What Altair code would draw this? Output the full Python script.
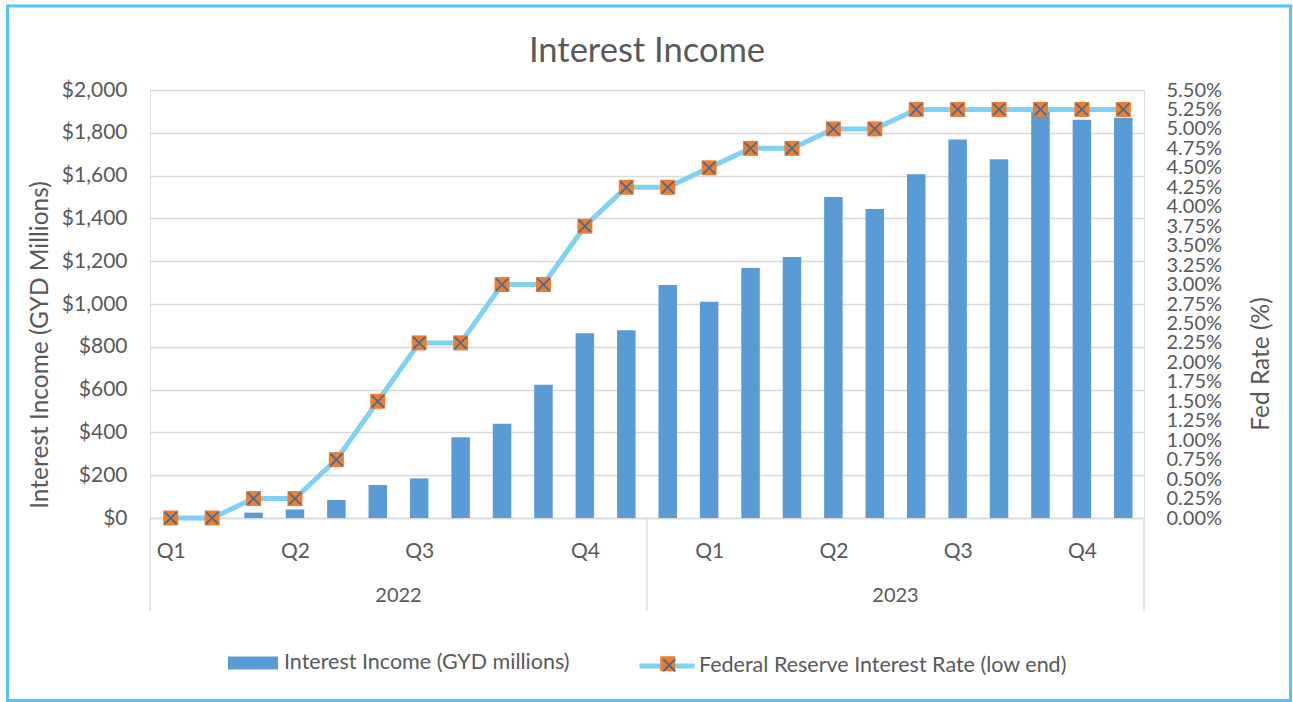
import altair as alt
import pandas as pd

# ---------------- data ----------------
month_index = list(range(24))
income = [0, 0, 25, 40, 84, 154, 185, 377, 441, 623, 863, 877,
          1089, 1011, 1168, 1220, 1500, 1444, 1606, 1769, 1676, 1906, 1861, 1870]
fed_rate = [0.00, 0.00, 0.25, 0.25, 0.75, 1.50, 2.25, 2.25, 3.00, 3.00, 3.75, 4.25,
            4.25, 4.50, 4.75, 4.75, 5.00, 5.00, 5.25, 5.25, 5.25, 5.25, 5.25, 5.25]
quarter_pos = [0, 3, 6, 10, 13, 16, 19, 22]
quarter_labels = ["Q1", "Q2", "Q3", "Q4", "Q1", "Q2", "Q3", "Q4"]
years = ["2022", "2023"]
income_ticks = list(range(0, 2001, 200))
rate_ticks = [i * 0.25 for i in range(23)]

bar_name = "Interest Income (GYD millions)"
line_name = "Federal Reserve Interest Rate (low end)"

# ---------------- styles ----------------
FONT = "Lato"
TXT = "#595959"
GRID = "#D9D9D9"
BAR = "#5B9BD5"
LINE = "#7FD1F5"
ORANGE = "#ED7D31"
XCOL = "#4A6B8F"
BORDER = "#4FC6F5"

df = pd.DataFrame({"m": month_index, "income": income, "rate": fed_rate,
                   "s1": bar_name, "s2": line_name, "s3": line_name + " ", "s4": line_name + "  "})
year_df = pd.DataFrame({"year": years, "center": [12 * i + 5.5 for i in range(len(years))]})
sep_df = pd.DataFrame({"b": [12 * i - 0.5 for i in range(len(years) + 1)]})

label_arr = [""] * 24
for p, l in zip(quarter_pos, quarter_labels):
    label_arr[p] = l
label_expr = "[" + ",".join("'" + s + "'" for s in label_arr) + "][datum.value]"

xscale = alt.Scale(domain=[-0.5, 23.5], nice=False, zero=False, padding=0)

x_axis = alt.Axis(values=quarter_pos, labelExpr=label_expr, grid=False, ticks=False, tickSize=0,
                  domainColor=GRID, domainWidth=1.3, labelPadding=22, labelFontSize=21,
                  labelColor=TXT, labelFont=FONT, title=None, labelFlush=False, labelOverlap=False)

left_axis = alt.Axis(values=income_ticks, format="$,.0f", grid=True, gridColor=GRID, gridWidth=1.3,
                     domain=False, ticks=False, tickSize=0, labelPadding=23, labelFontSize=21,
                     labelColor=TXT, labelFont=FONT,
                     title="Interest Income (GYD Millions)", titleFontSize=24.5, titleColor=TXT,
                     titleFont=FONT, titleFontWeight="normal", titleAngle=270, titleX=-109.5,
                     titleY=254.5, titleAlign="center", titleBaseline="middle")

rate_axis = alt.Axis(values=rate_ticks, labelExpr="format(datum.value, '.2f') + '%'", orient="right",
                     grid=False, domain=False, ticks=False, tickSize=0, labelPadding=22,
                     labelFontSize=20, labelColor=TXT, labelFont=FONT, labelOverlap=False,
                     title="Fed Rate (%)", titleFontSize=24.5, titleColor=TXT, titleFont=FONT,
                     titleFontWeight="normal", titleAngle=270, titleX=117, titleY=273.5,
                     titleAlign="center", titleBaseline="middle")

legend_common = dict(orient="none", title=None, labelFontSize=21.5, labelColor=TXT, labelFont=FONT,
                     labelLimit=600)

border = alt.Chart(alt.Data(values=[{}])).mark_rect(
    fill=None, stroke=BORDER, strokeWidth=3, filled=False
).encode(x=alt.value(-142.5), x2=alt.value(1140.5), y=alt.value(-84), y2=alt.value(610.5))

bars = alt.Chart(df).mark_bar(size=18.5).encode(
    x=alt.X("m:Q", scale=xscale, axis=x_axis),
    y=alt.Y("income:Q", scale=alt.Scale(domain=[0, 2000], nice=False), axis=left_axis),
    fill=alt.Fill("s1:N", scale=alt.Scale(domain=[bar_name], range=[BAR]),
                  legend=alt.Legend(symbolType="M-1,-0.26H1V0.26H-1Z", symbolSize=2500,
                                    symbolStrokeWidth=0, legendX=78, legendY=548, labelOffset=6,
                                    **legend_common)),
)

rate_y = alt.Y("rate:Q", scale=alt.Scale(domain=[0, 5.5], nice=False), axis=rate_axis)

line = alt.Chart(df).mark_line(strokeWidth=5, interpolate="linear", strokeJoin="round").encode(
    x=alt.X("m:Q", scale=xscale, axis=x_axis),
    y=rate_y,
    stroke=alt.Stroke("s2:N", scale=alt.Scale(domain=[line_name], range=[LINE]),
                      legend=alt.Legend(symbolType="stroke", symbolSize=3025, symbolStrokeWidth=5,
                                        legendX=487, legendY=546, labelOffset=2, **legend_common)),
)

squares = alt.Chart(df).mark_point(filled=True, opacity=1, size=225, shape="square",
                                   color=ORANGE).encode(
    x=alt.X("m:Q", scale=xscale, axis=x_axis),
    y=rate_y,
    shape=alt.Shape("s3:N", scale=alt.Scale(domain=[line_name + " "], range=["square"]),
                    legend=alt.Legend(symbolSize=225, symbolFillColor=ORANGE, symbolStrokeWidth=0,
                                      legendX=507, legendY=563, labelExpr="''", **legend_common)),
)

xs = alt.Chart(df).mark_point(filled=False, shape="M-1,-1L1,1M-1,1L1,-1", size=144,
                              stroke=XCOL, strokeWidth=1.8, opacity=1).encode(
    x=alt.X("m:Q", scale=xscale, axis=x_axis),
    y=rate_y,
    opacity=alt.Opacity("s4:N", scale=alt.Scale(domain=[line_name + "  "], range=[1]),
                        legend=alt.Legend(symbolType="M-1,-1L1,1M-1,1L1,-1", symbolSize=144,
                                          symbolStrokeColor=XCOL, symbolStrokeWidth=1.8,
                                          legendX=508.5, legendY=564.5, labelExpr="''",
                                          **legend_common)),
)

seps = alt.Chart(sep_df).mark_rule(color=GRID, strokeWidth=1.3).encode(
    x=alt.X("b:Q", scale=xscale, axis=x_axis),
    y=alt.value(428), y2=alt.value(521),
)

year_text = alt.Chart(year_df).mark_text(font=FONT, fontSize=20, color=TXT, baseline="middle").encode(
    x=alt.X("center:Q", scale=xscale, axis=x_axis),
    y=alt.value(506),
    text="year:N",
)

rate_layer = alt.layer(line, squares, xs)
left_layer = alt.layer(border, seps, year_text, bars)

chart = alt.layer(left_layer, rate_layer).resolve_scale(
    y="independent", fill="independent", stroke="independent", shape="independent",
    opacity="independent"
).resolve_legend(
    fill="independent", stroke="independent", shape="independent", opacity="independent"
).properties(
    width=994, height=428,
    title=alt.TitleParams("Interest Income", font=FONT, fontSize=34.5, fontWeight="normal",
                          color=TXT, frame="group", anchor="middle", baseline="alphabetic",
                          offset=0, dy=91.5),
    autosize=alt.AutoSizeParams(type="none"),
    padding={"left": 150, "top": 90, "right": 149, "bottom": 184},
).configure_view(stroke=None).configure(font=FONT, background="white")

chart.save("out.html", embed_options={"renderer": "svg", "actions": False})
